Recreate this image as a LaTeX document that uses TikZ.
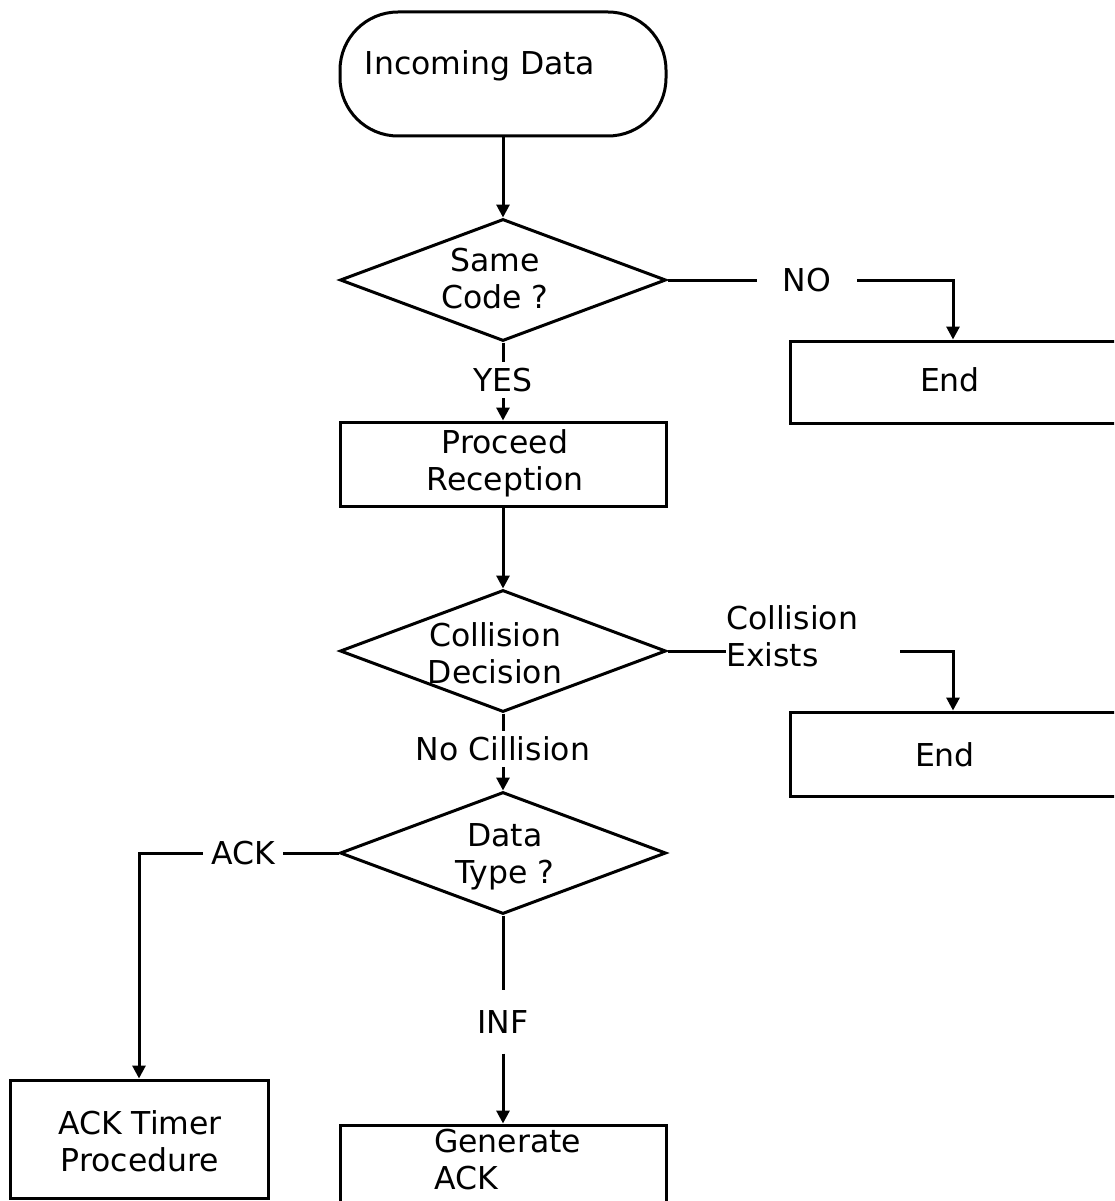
\documentclass[tikz,border=0pt]{standalone}
\usepackage{fontspec}
\setmainfont{DejaVu Sans}
\usetikzlibrary{shapes.geometric,arrows.meta}
\begin{document}
\begin{tikzpicture}[x=1pt,y=-1pt,
  every node/.style={font=\fontsize{31.5}{37}\selectfont},
  ln/.style={line width=3pt},
  arr/.style={ln,-{Triangle[width=13pt,length=13pt]}},
  box/.style={draw,line width=3pt,rectangle,inner sep=0pt},
  term/.style={draw,line width=3pt,rectangle,rounded corners=58pt,inner sep=0pt,minimum width=326pt,minimum height=124pt},
  dia/.style={draw,line width=3pt,diamond,inner sep=0pt,minimum width=326pt,minimum height=122pt},
  txt/.style={inner sep=0pt,align=center},
  lbl/.style={inner xsep=4pt,inner ysep=6pt,align=center}]
\useasboundingbox (0,0) rectangle (1114,1201);
\fill[white] (0,0) rectangle (1114,1201);
\clip (0,0) rectangle (1114,1201);

% shapes
\node[term] (start) at (503,74) {};
\node[txt] (startt) at (480,66) {Incoming Data};

\node[dia] (d1) at (503,280) {};
\node[txt] (d1t) at (495,279) {Same\\Code ?};

\node[box,minimum width=326pt,minimum height=82pt] (end1) at (953,382) {};
\node[txt] (end1t) at (950,380) {End};

\node[box,minimum width=326pt,minimum height=84pt] (proc) at (503,464) {};
\node[txt] (proct) at (505,463) {Proceed\\Reception};

\node[dia] (d2) at (503,651) {};
\node[txt] (d2t) at (495,653) {Collision\\Decision};

\node[box,minimum width=326pt,minimum height=84pt] (end2) at (953,754) {};
\node[txt] (end2t) at (945,755) {End};

\node[dia] (d3) at (503,853) {};
\node[txt] (d3t) at (505,857) {Data\\Type ?};

\node[box,minimum width=258pt,minimum height=118pt] (ackt) at (139,1139) {};
\node[txt] (acktt) at (140,1141) {ACK Timer\\Procedure};

\node[box,minimum width=326pt,minimum height=120pt] (gen) at (503,1185) {};
\node[txt,align=left,anchor=north west] (gent) at (434,1129) {Generate\\ACK};

% connector labels
\node[lbl] (yes) at (503,380) {YES};
\node[lbl,inner xsep=26pt] (no) at (807,280) {NO};
\node[lbl,inner xsep=0pt,align=left,anchor=west] (ce) at (726,636) {Collision\\Exists};
\coordinate (ceo) at (900,651);
\node[lbl] (nc) at (503,749) {No Cillision};
\node[lbl,inner xsep=8pt] (ack) at (243,853) {ACK};
\node[lbl,inner ysep=20pt] (inf) at (503,1022) {INF};

% connectors
\draw[arr] (start) -- (d1.north);
\draw[ln] (d1.east) -- (no.west);
\draw[arr] (no.east) -| (end1.north);
\draw[ln] (d1.south) -- (yes.north);
\draw[arr] (yes.south) -- (proc.north);
\draw[arr] (proc) -- (d2.north);
\draw[ln] (d2.east) -- (d2.east -| ce.west);
\draw[arr] (ceo) -| (end2.north);
\draw[ln] (d2.south) -- (nc.north);
\draw[arr] (nc.south) -- (d3.north);
\draw[ln] (d3.west) -- (ack.east);
\draw[arr] (ack.west) -| (ackt.north);
\draw[ln] (d3.south) -- (inf.north);
\draw[arr] (inf.south) -- (gen.north);
\end{tikzpicture}
\end{document}
